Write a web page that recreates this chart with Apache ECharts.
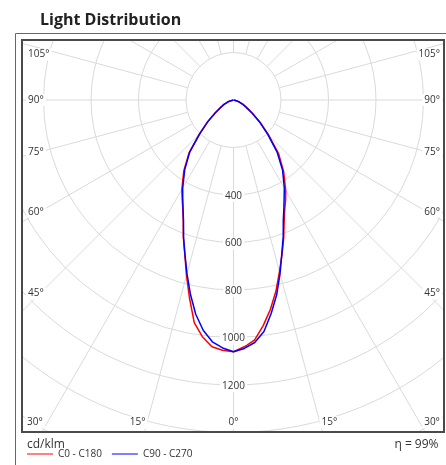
<!DOCTYPE html>
<html><head><meta charset="utf-8">
<script src="https://cdn.jsdelivr.net/npm/echarts@6/dist/echarts.min.js"></script>
<style>html,body{margin:0;padding:0;background:#fff}#c{width:446px;height:465px}</style>
</head><body><div id="c"></div>
<script>
// gamma angles (deg from nadir) and luminous intensities (cd/klm)
const gammaAngles = [0, 2.5, 5, 7.5, 10, 12.5, 15, 17.5, 20, 22.5, 25, 27.5, 30, 35, 40, 45, 50, 55, 60, 65, 70, 75, 80, 85, 90];
const c0Values   = [1060, 1040, 1015, 958, 895, 825, 748, 680, 618, 557, 510, 475, 440, 368, 296, 210, 147, 97, 64, 44, 28, 15, 7, 2, 0];
const c180Values = [1060, 1055, 1043, 1005, 952, 855, 765, 682, 617, 553, 505, 468, 435, 365, 292, 205, 142, 95, 63, 44, 28, 15, 7, 2, 0];
const c90Values  = [1060, 1047, 1025, 983, 913, 840, 757, 677, 612, 548, 502, 462, 428, 360, 285, 203, 142, 94, 62, 44, 28, 15, 7, 2, 0];
const c270Values = [1060, 1045, 1022, 978, 916, 838, 757, 680, 615, 550, 503, 463, 428, 358, 287, 200, 140, 93, 62, 44, 28, 15, 7, 2, 0];
const radialTickLabels = [400, 600, 800, 1000, 1200];
const sideAngleLabels = [105, 90, 75, 60, 45];
const bottomAngleLabels = [30, 15, 0];
const titleText = 'Light Distribution';
const unitText = 'cd/klm';
const effText = 'η = 99%';
const legendNames = ['C0 - C180', 'C90 - C270'];
const seriesColors = ['#ff0000', '#0000ff'];

function curve(leftVals, rightVals) {
  const pts = [];
  for (let i = gammaAngles.length - 1; i >= 0; i--) pts.push([leftVals[i], gammaAngles[i]]);
  for (let i = 1; i < gammaAngles.length; i++) pts.push([rightVals[i], 360 - gammaAngles[i]]);
  return pts;
}

const FRAME = {l: 22, t: 40, r: 444, b: 432};
const CENTER = [233.5, 100];
const gridColor = '#dadada';
const FONT = '"Open Sans", "Noto Sans", sans-serif';

const chart = echarts.init(document.getElementById('c'), null, {renderer: 'canvas'});
const option = {
  animation: false,
  backgroundColor: '#fff',
  color: seriesColors,
  legend: {
    data: legendNames, left: 27, top: 449, icon: 'rect', itemWidth: 26, itemHeight: 1, itemGap: 10, z: 200,
    textStyle: {fontSize: 10, color: '#333', fontFamily: FONT}, padding: 0
  },
  polar: [
    {center: CENTER, radius: [47.5, 427.5]},
    {center: CENTER, radius: [0, 427.5]}
  ],
  angleAxis: [
    {polarIndex: 0, type: 'value', min: 0, max: 360, interval: 15, startAngle: -90, clockwise: true,
     axisLine: {show: false}, axisTick: {show: false}, axisLabel: {show: false},
     splitLine: {show: true, lineStyle: {color: gridColor, width: 1}}},
    {polarIndex: 1, type: 'value', min: 0, max: 360, interval: 15, startAngle: -90, clockwise: true, show: false}
  ],
  radiusAxis: [
    {polarIndex: 0, type: 'value', min: 200, max: 1800, interval: 200,
     axisLine: {show: false}, axisTick: {show: false}, axisLabel: {show: false},
     splitLine: {show: true, lineStyle: {color: gridColor, width: 1}}},
    {polarIndex: 1, type: 'value', min: 0, max: 1800, interval: 200, show: false}
  ],
  series: [
    {type: 'line', coordinateSystem: 'polar', polarIndex: 1, name: legendNames[0], data: curve(c180Values, c0Values),
     symbol: 'none', smooth: false, itemStyle: {color: seriesColors[0]}, lineStyle: {color: seriesColors[0], width: 1.5}, z: 3},
    {type: 'line', coordinateSystem: 'polar', polarIndex: 1, name: legendNames[1], data: curve(c270Values, c90Values),
     symbol: 'none', smooth: false, itemStyle: {color: seriesColors[1]}, lineStyle: {color: seriesColors[1], width: 1.5}, z: 4}
  ]
};
chart.setOption(option);

const c = chart.convertToPixel({seriesIndex: 0}, [0, 0]);
const cx = c[0], cy = c[1];
const g = [];
const Z = 100;
// masks outside the plot frame
g.push({type: 'rect', z: Z, shape: {x: 0, y: 0, width: 446, height: FRAME.t}, style: {fill: '#fff'}});
g.push({type: 'rect', z: Z, shape: {x: 0, y: FRAME.b, width: 446, height: 465 - FRAME.b}, style: {fill: '#fff'}});
g.push({type: 'rect', z: Z, shape: {x: 0, y: 0, width: FRAME.l, height: 465}, style: {fill: '#fff'}});
g.push({type: 'rect', z: Z, shape: {x: FRAME.r, y: 0, width: 446 - FRAME.r, height: 465}, style: {fill: '#fff'}});
// frames
g.push({type: 'rect', z: Z + 1, shape: {x: 15.5, y: 33.5, width: 500, height: 500}, style: {fill: 'none', stroke: '#666', lineWidth: 1}});
g.push({type: 'rect', z: Z + 1, shape: {x: FRAME.l, y: FRAME.t, width: FRAME.r - FRAME.l, height: FRAME.b - FRAME.t}, style: {fill: 'none', stroke: '#4a4a4a', lineWidth: 2}});

function label(x, y, text, align, size) {
  return {type: 'text', z: Z - 10, style: {x: x, y: y, text: text, fill: '#333', font: (size || 10) + 'px ' + FONT,
    textAlign: align, textVerticalAlign: 'middle', backgroundColor: '#fff', padding: [1, 2]}};
}
// radial labels
radialTickLabels.forEach(function (v) {
  const p = chart.convertToPixel({seriesIndex: 0}, [v, 0]);
  g.push(label(p[0], p[1] + 1, String(v), 'center', 10));
});
// side angle labels
sideAngleLabels.forEach(function (a) {
  const rad = a * Math.PI / 180;
  let y = cy + (cx - 40) / Math.tan(rad);
  y = Math.max(y, FRAME.t + 14.5);
  g.push(label(FRAME.l + 4, y, a + '°', 'left', 10));
  g.push(label(FRAME.r - 2, y, a + '°', 'right', 10));
});
// bottom angle labels
bottomAngleLabels.forEach(function (a) {
  const y = FRAME.b - 9.5;
  if (a === 0) { g.push(label(cx, y, '0°', 'center', 10)); return; }
  const off = (FRAME.b - cy) * Math.tan(a * Math.PI / 180);
  g.push(label(cx - off + 3, y, a + '°', 'right', 10));
  g.push(label(cx + off - 3, y, a + '°', 'left', 10));
});
// title and footer
g.push({type: 'text', z: Z + 2, style: {x: 40, y: 20, text: titleText, fill: '#222', font: 'bold 16px ' + FONT, textAlign: 'left', textVerticalAlign: 'middle'}});
g.push({type: 'text', z: Z + 2, style: {x: 27, y: 445, text: unitText, fill: '#333', font: '12px ' + FONT, textAlign: 'left', textVerticalAlign: 'middle'}});
g.push({type: 'text', z: Z + 2, style: {x: 438.5, y: 445, text: effText, fill: '#333', font: '12px ' + FONT, textAlign: 'right', textVerticalAlign: 'middle'}});

chart.setOption({graphic: {elements: g}});
</script></body></html>
